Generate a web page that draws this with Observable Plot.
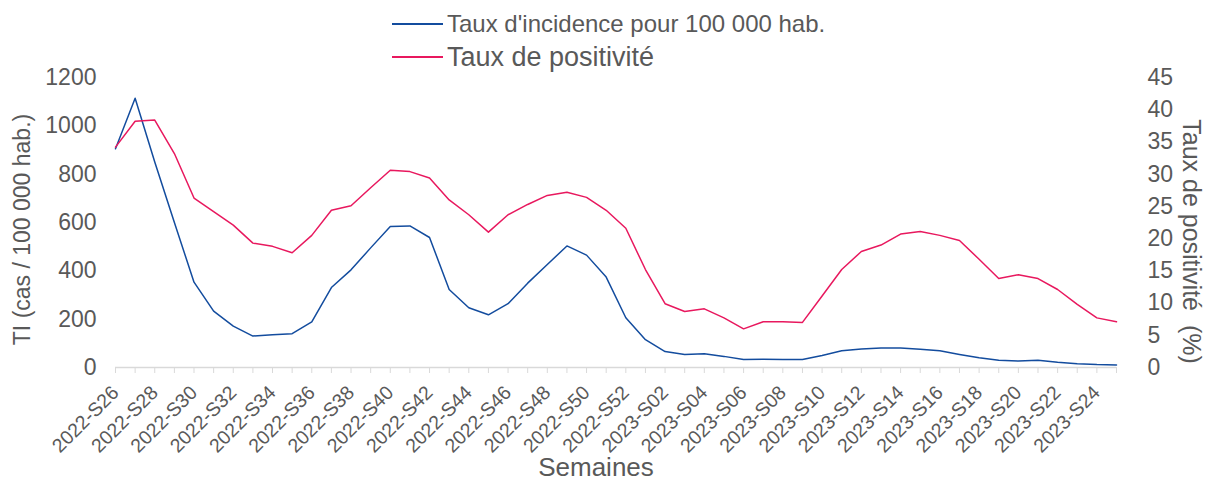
<!DOCTYPE html>
<html><head><meta charset="utf-8">
<script src="https://cdn.jsdelivr.net/npm/d3@7"></script>
<script src="https://cdn.jsdelivr.net/npm/@observablehq/plot@0.6"></script>
<style>
body{margin:0;background:#fff;font-family:"Liberation Sans",Arial,sans-serif;color:#595959;}
#wrap{position:relative;width:1209px;height:481px;overflow:hidden;}
#chart{position:absolute;left:0;top:0;}
.lg{position:absolute;display:flex;align-items:center;white-space:nowrap;}
.lg .sw{display:inline-block;width:51px;height:2px;margin-right:4px;}
</style></head><body>
<div id="wrap">
  <div id="chart"></div>
  <div class="lg" id="lg1" style="left:392px;top:10px;height:28px;font-size:24px;"></div>
  <div class="lg" id="lg2" style="left:392px;top:41px;height:32px;font-size:27px;"></div>
</div>
<script>
const weeks = ["2022-S26","2022-S27","2022-S28","2022-S29","2022-S30","2022-S31","2022-S32","2022-S33","2022-S34","2022-S35","2022-S36","2022-S37","2022-S38","2022-S39","2022-S40","2022-S41","2022-S42","2022-S43","2022-S44","2022-S45","2022-S46","2022-S47","2022-S48","2022-S49","2022-S50","2022-S51","2022-S52","2023-S01","2023-S02","2023-S03","2023-S04","2023-S05","2023-S06","2023-S07","2023-S08","2023-S09","2023-S10","2023-S11","2023-S12","2023-S13","2023-S14","2023-S15","2023-S16","2023-S17","2023-S18","2023-S19","2023-S20","2023-S21","2023-S22","2023-S23","2023-S24","2023-S25"];
const tauxIncidence = [905,1114,850,600,353,233,171,130,136,140,189,331,404,495,583,586,538,323,247,218,264,349,426,503,465,374,206,115,66,54,57,46,33,34,33,33,50,69,77,81,81,76,69,54,40,30,27,30,22,16,12,10];
const tauxPositivite = [34.2,38.2,38.4,33.2,26.3,24.2,22.1,19.3,18.8,17.8,20.5,24.4,25.1,27.9,30.6,30.4,29.4,26.0,23.7,21.0,23.7,25.3,26.7,27.2,26.4,24.4,21.6,15.2,9.9,8.7,9.1,7.7,6.0,7.1,7.1,7.0,11.1,15.2,18.0,19.0,20.7,21.1,20.5,19.7,16.8,13.8,14.4,13.8,12.1,9.8,7.7,7.1];
const leftTicks = [0,200,400,600,800,1000,1200];
const rightTicks = [0,5,10,15,20,25,30,35,40,45];
const labelWeeks = weeks.filter((d,i)=>i%2===0);
const seriesNames = ["Taux d'incidence pour 100 000 hab.","Taux de positivité"];
const leftTitle = "TI (cas / 100 000 hab.)";
const rightTitle = "Taux de positivité  (%)";
const xTitle = "Semaines";

const BLUE = "#134C9E", PINK = "#E8185E", GREY = "#595959";
const k = 1200/45;
const rows = weeks.map((w,i)=>({week:w, ti:tauxIncidence[i], tp:tauxPositivite[i]}));

const chart = Plot.plot({
  width:1209, height:481,
  marginLeft:115, marginRight:93, marginTop:77, marginBottom:114,
  style:{fontFamily:"'Liberation Sans', Arial, sans-serif", color:GREY, background:"transparent", overflow:"visible"},
  x:{type:"point", domain:weeks, padding:0},
  y:{domain:[0,1200]},
  marks:[
    Plot.ruleY([0], {stroke:"#D9D9D9", strokeWidth:1.5}),
    Plot.axisX({ticks:weeks, tickSize:6, stroke:"#D9D9D9", tickRotate:-45, fontSize:19.5, fill:GREY, tickPadding:16,
      tickFormat:d=>labelWeeks.includes(d)?d:"", label:null}),
    Plot.axisY(leftTicks, {anchor:"left", tickSize:0, tickPadding:19, fontSize:23, fill:GREY, tickFormat:d=>String(d), label:null}),
    Plot.axisY(rightTicks.map(v=>v*k), {anchor:"right", tickSize:0, tickPadding:31, fontSize:23, fill:GREY,
      tickFormat:d=>String(Math.round(d/k)), label:null}),
    Plot.line(rows, {x:"week", y:"ti", stroke:BLUE, strokeWidth:1.5}),
    Plot.line(rows, {x:"week", y:d=>d.tp*k, stroke:PINK, strokeWidth:1.5}),
    Plot.text([leftTitle], {frameAnchor:"left", textAnchor:"middle", rotate:-90, dx:-93, dy:7, fontSize:23, fill:GREY}),
    Plot.text([rightTitle], {frameAnchor:"right", textAnchor:"middle", rotate:90, dx:74, dy:19, fontSize:25, fill:GREY}),
    Plot.text([xTitle], {frameAnchor:"bottom", dx:-20, dy:108, fontSize:26, fill:GREY})
  ]
});
document.getElementById("chart").appendChild(chart);

[[ "lg1", BLUE, seriesNames[0]], ["lg2", PINK, seriesNames[1]]].forEach(([id,c,t])=>{
  const el = document.getElementById(id);
  const sw = document.createElement("span"); sw.className="sw"; sw.style.background=c;
  const tx = document.createElement("span"); tx.textContent=t;
  el.appendChild(sw); el.appendChild(tx);
});
</script>
</body></html>
